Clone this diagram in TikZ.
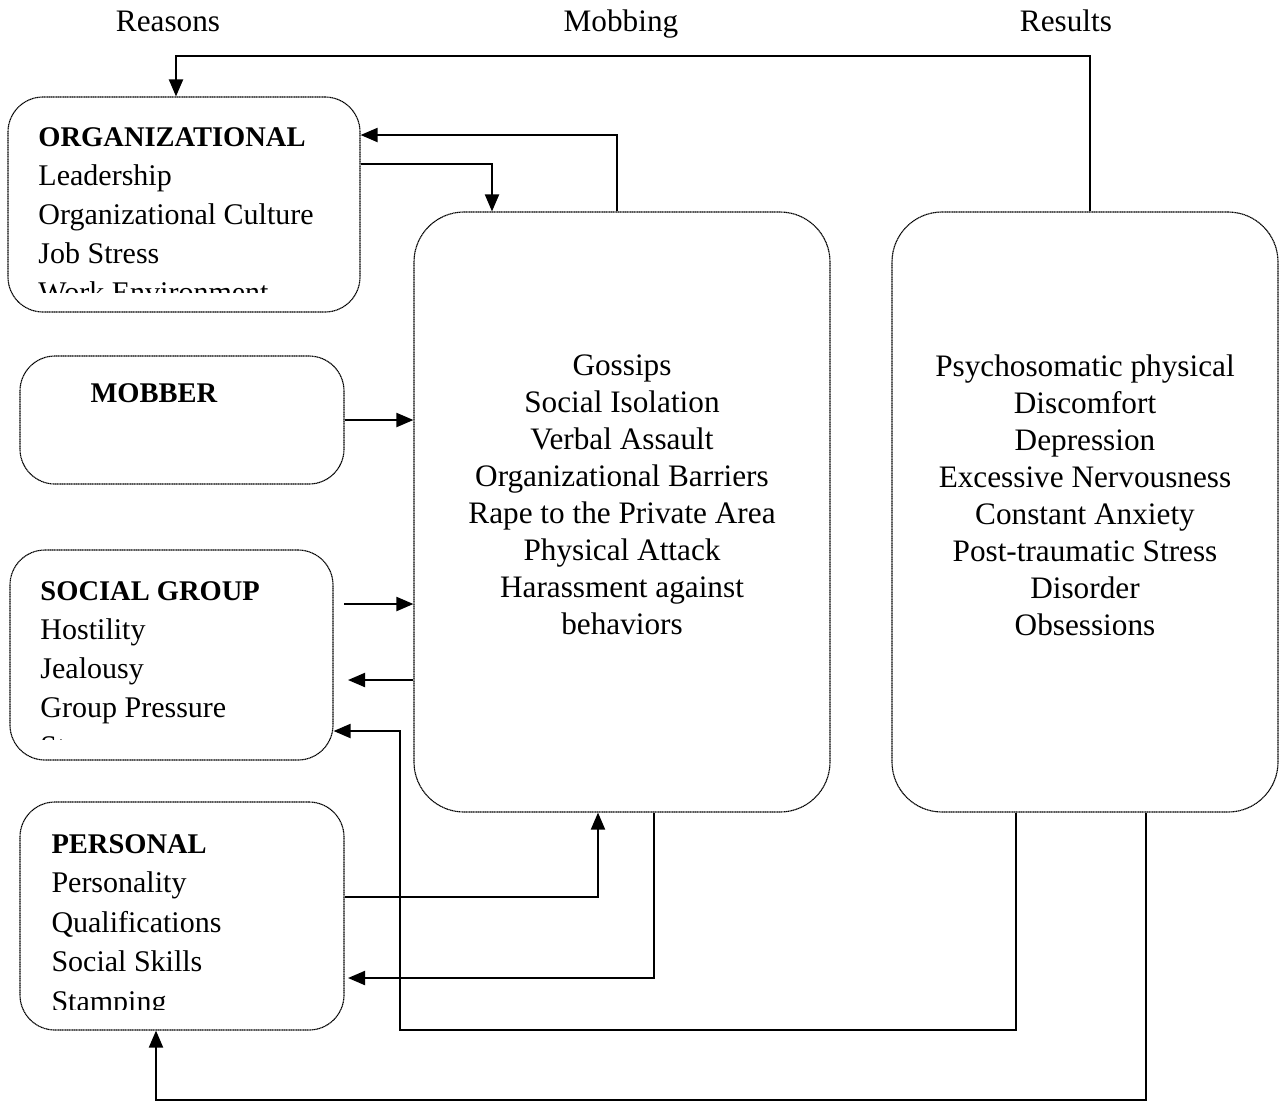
\documentclass[tikz,border=0pt]{standalone}
\usepackage{fontspec}
\setmainfont{Liberation Serif}
\usetikzlibrary{arrows.meta}

\tikzset{
  box/.style={draw, line width=0.45pt, dash pattern=on 0.5pt off 0.2pt, inner sep=0pt},
  link/.style={line width=0.8pt},
  arr/.style={link, -{Triangle[length=6.8pt, width=5.6pt]}},
  item/.style={anchor=base west, inner sep=0pt, font=\fontsize{12}{14}\selectfont},
  title/.style={item, font=\fontsize{11.4}{14}\selectfont\bfseries},
  list/.style={align=center, inner sep=0pt, font=\fontsize{12.5}{14.8}\selectfont},
  header/.style={anchor=base, inner sep=0pt, font=\fontsize{12.5}{14.8}\selectfont},
}

\begin{document}
\begin{tikzpicture}[x=0.4pt, y=-0.4pt]
\useasboundingbox (0,0) rectangle (1287,1102);

%% === INTESTAZIONI ===
\node[header] (hReasons) at (168,31) {Reasons};
\node[header] (hMobbing) at (621,31) {Mobbing};
\node[header] (hResults) at (1066,31) {Results};

%% === RIQUADRI ===
\node[box, rounded corners=14pt, minimum width=140.8pt, minimum height=86pt]  (org) at (184,204.5) {};
\node[box, rounded corners=14pt, minimum width=129.6pt, minimum height=51.2pt] (mob) at (182,420) {};
\node[box, rounded corners=14pt, minimum width=129.2pt, minimum height=84pt]  (soc) at (171.5,655) {};
\node[box, rounded corners=14pt, minimum width=129.6pt, minimum height=91.2pt] (per) at (182,916) {};
\node[box, rounded corners=20pt, minimum width=166.4pt, minimum height=240pt] (mid) at (622,512) {};
\node[box, rounded corners=20pt, minimum width=154.4pt, minimum height=240pt] (res) at (1085,512) {};

%% testo dei riquadri a sinistra (ultima riga tagliata)
\begin{scope}
  \clip (0,97) rectangle (400,292);
  \node[title] (orgT) at (38,146) {ORGANIZATIONAL};
  \foreach \t [count=\i] in {Leadership, Organizational Culture, Job Stress, Work Environment}
    \node[item] (org-\i) at (38,146+39.2*\i) {\t};
\end{scope}

\node[title] (mobT) at (90,402) {MOBBER};

\begin{scope}
  \clip (0,550) rectangle (400,739);
  \node[title] (socT) at (40,600) {SOCIAL GROUP};
  \foreach \t [count=\i] in {Hostility, Jealousy, Group Pressure, Stress}
    \node[item] (soc-\i) at (40,600+39*\i) {\t};
\end{scope}

\begin{scope}
  \clip (0,802) rectangle (400,1009);
  \node[title] (perT) at (51,853) {PERSONAL};
  \foreach \t [count=\i] in {Personality, Qualifications, Social Skills, Stamping}
    \node[item] (per-\i) at (51,853+39.5*\i) {\t};
\end{scope}

%% testo dei riquadri grandi
\node[list] (midT) at (622,495) {Gossips\\ Social Isolation\\ Verbal Assault\\ Organizational Barriers\\
  Rape to the Private Area\\ Physical Attack\\ Harassment against\\ behaviors};
\node[list] (resT) at (1085,495) {Psychosomatic physical\\ Discomfort\\ Depression\\ Excessive Nervousness\\
  Constant Anxiety\\ Post-traumatic Stress\\ Disorder\\ Obsessions};

%% === COLLEGAMENTI ===
\coordinate (t1) at (1090,56);
\coordinate (t2) at (176,56);
\coordinate (t3) at (617,135);
\coordinate (t4) at (492,164);
\draw[arr] (res.north -| t1) -- (t1) -- (t2) -- (org.north -| t2);
\draw[arr] (mid.north -| t3) -- (t3) -- (org.east |- t3);
\draw[arr] (org.east |- t4) -- (t4) -- (mid.north -| t4);

\draw[arr] (mob.east) -- (mid.west |- mob.east);

\coordinate (s1) at (344,604);
\coordinate (s2) at (348,680);
\draw[arr] (s1) -- (mid.west |- s1);
\draw[arr] (mid.west |- s2) -- (s2);

\coordinate (b1) at (1016,1030);
\coordinate (b2) at (400,731);
\draw[arr] (res.south -| b1) -- (b1) -| (b2) -- (soc.east |- b2);

\coordinate (p1) at (598,897);
\coordinate (p2) at (654,978);
\coordinate (p3) at (348,978);
\draw[arr] (per.east |- p1) -- (p1) -- (mid.south -| p1);
\draw[arr] (mid.south -| p2) -- (p2) -- (p3);

\coordinate (b3) at (1146,1100);
\coordinate (b4) at (156,1100);
\draw[arr] (res.south -| b3) -- (b3) -- (b4) -- (per.south -| b4);

\end{tikzpicture}
\end{document}
